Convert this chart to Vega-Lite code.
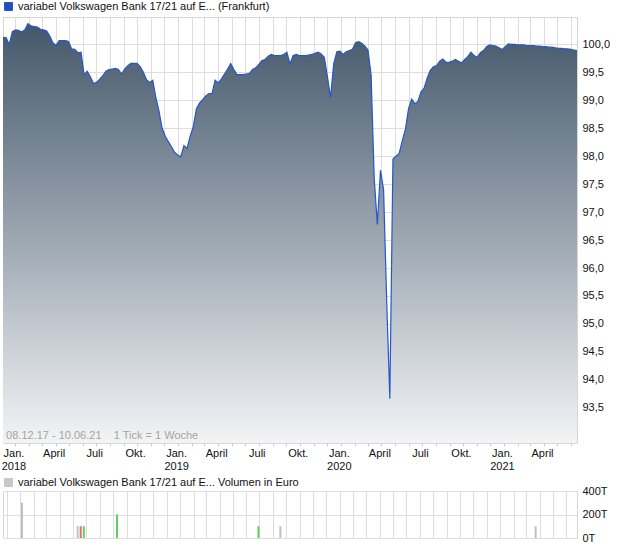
{
  "$schema": "https://vega.github.io/schema/vega-lite/v6.json",
  "background": "white",
  "padding": {"left": 0, "top": 0, "right": 0, "bottom": 0},
  "spacing": 4,
  "config": {
    "font": "Liberation Sans",
    "view": {"stroke": "#d6d6d6"},
    "axis": {"labelFont": "Liberation Sans", "labelFontSize": 11, "labelColor": "#111111", "gridColor": "#dddddd", "gridWidth": 1, "labelOverlap": false}
  },
  "resolve": {"scale": {"x": "independent", "y": "independent", "stroke": "independent", "color": "independent"}, "legend": {"stroke": "independent"}},
  "datasets": {
    "kurs": [
      {"datum": "2017-12-04", "kurs": 100.12}, {"datum": "2017-12-11", "kurs": 100.12}, {"datum": "2017-12-18", "kurs": 100.00}, {"datum": "2017-12-25", "kurs": 100.23},
      {"datum": "2018-01-01", "kurs": 100.26}, {"datum": "2018-01-08", "kurs": 100.25}, {"datum": "2018-01-15", "kurs": 100.22}, {"datum": "2018-01-22", "kurs": 100.26}, {"datum": "2018-01-29", "kurs": 100.37},
      {"datum": "2018-02-05", "kurs": 100.33}, {"datum": "2018-02-12", "kurs": 100.32}, {"datum": "2018-02-19", "kurs": 100.31}, {"datum": "2018-02-26", "kurs": 100.27},
      {"datum": "2018-03-05", "kurs": 100.26}, {"datum": "2018-03-12", "kurs": 100.24}, {"datum": "2018-03-19", "kurs": 100.15}, {"datum": "2018-03-26", "kurs": 100.03},
      {"datum": "2018-04-02", "kurs": 99.98}, {"datum": "2018-04-09", "kurs": 100.07}, {"datum": "2018-04-16", "kurs": 100.07}, {"datum": "2018-04-23", "kurs": 100.07}, {"datum": "2018-04-30", "kurs": 100.05},
      {"datum": "2018-05-07", "kurs": 99.92}, {"datum": "2018-05-14", "kurs": 99.91}, {"datum": "2018-05-21", "kurs": 99.85}, {"datum": "2018-05-28", "kurs": 99.86},
      {"datum": "2018-06-04", "kurs": 99.46}, {"datum": "2018-06-11", "kurs": 99.52}, {"datum": "2018-06-18", "kurs": 99.42}, {"datum": "2018-06-25", "kurs": 99.30},
      {"datum": "2018-07-02", "kurs": 99.32}, {"datum": "2018-07-09", "kurs": 99.38}, {"datum": "2018-07-16", "kurs": 99.44}, {"datum": "2018-07-23", "kurs": 99.52}, {"datum": "2018-07-30", "kurs": 99.55},
      {"datum": "2018-08-06", "kurs": 99.56}, {"datum": "2018-08-13", "kurs": 99.57}, {"datum": "2018-08-20", "kurs": 99.55}, {"datum": "2018-08-27", "kurs": 99.47},
      {"datum": "2018-09-03", "kurs": 99.56}, {"datum": "2018-09-10", "kurs": 99.62}, {"datum": "2018-09-17", "kurs": 99.66}, {"datum": "2018-09-24", "kurs": 99.66},
      {"datum": "2018-10-01", "kurs": 99.66}, {"datum": "2018-10-08", "kurs": 99.60}, {"datum": "2018-10-15", "kurs": 99.50}, {"datum": "2018-10-22", "kurs": 99.37}, {"datum": "2018-10-29", "kurs": 99.32},
      {"datum": "2018-11-05", "kurs": 99.36}, {"datum": "2018-11-12", "kurs": 99.05}, {"datum": "2018-11-19", "kurs": 98.81}, {"datum": "2018-11-26", "kurs": 98.50},
      {"datum": "2018-12-03", "kurs": 98.36}, {"datum": "2018-12-10", "kurs": 98.26}, {"datum": "2018-12-17", "kurs": 98.17}, {"datum": "2018-12-24", "kurs": 98.07}, {"datum": "2018-12-31", "kurs": 98.02},
      {"datum": "2019-01-07", "kurs": 97.99}, {"datum": "2019-01-14", "kurs": 98.19}, {"datum": "2019-01-21", "kurs": 98.14}, {"datum": "2019-01-28", "kurs": 98.36},
      {"datum": "2019-02-04", "kurs": 98.53}, {"datum": "2019-02-11", "kurs": 98.85}, {"datum": "2019-02-18", "kurs": 98.95}, {"datum": "2019-02-25", "kurs": 99.01},
      {"datum": "2019-03-04", "kurs": 99.08}, {"datum": "2019-03-11", "kurs": 99.12}, {"datum": "2019-03-18", "kurs": 99.12}, {"datum": "2019-03-25", "kurs": 99.36},
      {"datum": "2019-04-01", "kurs": 99.31}, {"datum": "2019-04-08", "kurs": 99.38}, {"datum": "2019-04-15", "kurs": 99.47}, {"datum": "2019-04-22", "kurs": 99.56}, {"datum": "2019-04-29", "kurs": 99.66},
      {"datum": "2019-05-06", "kurs": 99.55}, {"datum": "2019-05-13", "kurs": 99.46}, {"datum": "2019-05-20", "kurs": 99.46}, {"datum": "2019-05-27", "kurs": 99.46},
      {"datum": "2019-06-03", "kurs": 99.47}, {"datum": "2019-06-10", "kurs": 99.48}, {"datum": "2019-06-17", "kurs": 99.55}, {"datum": "2019-06-24", "kurs": 99.58},
      {"datum": "2019-07-01", "kurs": 99.64}, {"datum": "2019-07-08", "kurs": 99.71}, {"datum": "2019-07-15", "kurs": 99.73}, {"datum": "2019-07-22", "kurs": 99.79}, {"datum": "2019-07-29", "kurs": 99.82},
      {"datum": "2019-08-05", "kurs": 99.80}, {"datum": "2019-08-12", "kurs": 99.80}, {"datum": "2019-08-19", "kurs": 99.80}, {"datum": "2019-08-26", "kurs": 99.82},
      {"datum": "2019-09-02", "kurs": 99.86}, {"datum": "2019-09-09", "kurs": 99.65}, {"datum": "2019-09-16", "kurs": 99.80}, {"datum": "2019-09-23", "kurs": 99.82}, {"datum": "2019-09-30", "kurs": 99.80},
      {"datum": "2019-10-07", "kurs": 99.80}, {"datum": "2019-10-14", "kurs": 99.80}, {"datum": "2019-10-21", "kurs": 99.81}, {"datum": "2019-10-28", "kurs": 99.82},
      {"datum": "2019-11-04", "kurs": 99.84}, {"datum": "2019-11-11", "kurs": 99.86}, {"datum": "2019-11-18", "kurs": 99.83}, {"datum": "2019-11-25", "kurs": 99.77},
      {"datum": "2019-12-02", "kurs": 99.42}, {"datum": "2019-12-09", "kurs": 99.05}, {"datum": "2019-12-16", "kurs": 99.65}, {"datum": "2019-12-23", "kurs": 99.87}, {"datum": "2019-12-30", "kurs": 99.88},
      {"datum": "2020-01-06", "kurs": 99.82}, {"datum": "2020-01-13", "kurs": 99.87}, {"datum": "2020-01-20", "kurs": 99.89}, {"datum": "2020-01-27", "kurs": 99.91},
      {"datum": "2020-02-03", "kurs": 100.03}, {"datum": "2020-02-10", "kurs": 100.05}, {"datum": "2020-02-17", "kurs": 100.02}, {"datum": "2020-02-24", "kurs": 99.97},
      {"datum": "2020-03-02", "kurs": 99.90}, {"datum": "2020-03-09", "kurs": 99.45}, {"datum": "2020-03-16", "kurs": 97.60}, {"datum": "2020-03-23", "kurs": 96.78}, {"datum": "2020-03-30", "kurs": 97.75},
      {"datum": "2020-04-06", "kurs": 97.40}, {"datum": "2020-04-13", "kurs": 95.40}, {"datum": "2020-04-20", "kurs": 93.66}, {"datum": "2020-04-27", "kurs": 97.95},
      {"datum": "2020-05-04", "kurs": 98.00}, {"datum": "2020-05-11", "kurs": 98.05}, {"datum": "2020-05-18", "kurs": 98.28}, {"datum": "2020-05-25", "kurs": 98.48},
      {"datum": "2020-06-01", "kurs": 98.85}, {"datum": "2020-06-08", "kurs": 99.02}, {"datum": "2020-06-15", "kurs": 98.94}, {"datum": "2020-06-22", "kurs": 98.98}, {"datum": "2020-06-29", "kurs": 99.15},
      {"datum": "2020-07-06", "kurs": 99.22}, {"datum": "2020-07-13", "kurs": 99.40}, {"datum": "2020-07-20", "kurs": 99.54}, {"datum": "2020-07-27", "kurs": 99.60},
      {"datum": "2020-08-03", "kurs": 99.62}, {"datum": "2020-08-10", "kurs": 99.70}, {"datum": "2020-08-17", "kurs": 99.74}, {"datum": "2020-08-24", "kurs": 99.68}, {"datum": "2020-08-31", "kurs": 99.68},
      {"datum": "2020-09-07", "kurs": 99.70}, {"datum": "2020-09-14", "kurs": 99.73}, {"datum": "2020-09-21", "kurs": 99.70}, {"datum": "2020-09-28", "kurs": 99.67},
      {"datum": "2020-10-05", "kurs": 99.73}, {"datum": "2020-10-12", "kurs": 99.78}, {"datum": "2020-10-19", "kurs": 99.86}, {"datum": "2020-10-26", "kurs": 99.80},
      {"datum": "2020-11-02", "kurs": 99.77}, {"datum": "2020-11-09", "kurs": 99.85}, {"datum": "2020-11-16", "kurs": 99.89}, {"datum": "2020-11-23", "kurs": 99.96}, {"datum": "2020-11-30", "kurs": 99.99},
      {"datum": "2020-12-07", "kurs": 99.98}, {"datum": "2020-12-14", "kurs": 99.97}, {"datum": "2020-12-21", "kurs": 99.94}, {"datum": "2020-12-28", "kurs": 99.91},
      {"datum": "2021-01-04", "kurs": 99.96}, {"datum": "2021-01-11", "kurs": 100.01}, {"datum": "2021-01-18", "kurs": 100.00}, {"datum": "2021-01-25", "kurs": 100.00},
      {"datum": "2021-02-01", "kurs": 99.99}, {"datum": "2021-02-08", "kurs": 99.99}, {"datum": "2021-02-15", "kurs": 99.99}, {"datum": "2021-02-22", "kurs": 99.98},
      {"datum": "2021-03-01", "kurs": 99.98}, {"datum": "2021-03-08", "kurs": 99.98}, {"datum": "2021-03-15", "kurs": 99.97}, {"datum": "2021-03-22", "kurs": 99.97}, {"datum": "2021-03-29", "kurs": 99.96},
      {"datum": "2021-04-05", "kurs": 99.96}, {"datum": "2021-04-12", "kurs": 99.95}, {"datum": "2021-04-19", "kurs": 99.95}, {"datum": "2021-04-26", "kurs": 99.94},
      {"datum": "2021-05-03", "kurs": 99.93}, {"datum": "2021-05-10", "kurs": 99.93}, {"datum": "2021-05-17", "kurs": 99.92}, {"datum": "2021-05-24", "kurs": 99.92}, {"datum": "2021-05-31", "kurs": 99.91},
      {"datum": "2021-06-07", "kurs": 99.90}, {"datum": "2021-06-14", "kurs": 99.89}
    ],
    "volumen": [
      {"datum": "2018-01-05", "umsatz": 300000, "tendenz": "unverändert"},
      {"datum": "2018-05-12", "umsatz": 100000, "tendenz": "unverändert"},
      {"datum": "2018-05-19", "umsatz": 100000, "tendenz": "fallend"},
      {"datum": "2018-05-26", "umsatz": 100000, "tendenz": "steigend"},
      {"datum": "2018-08-10", "umsatz": 200000, "tendenz": "steigend"},
      {"datum": "2019-06-29", "umsatz": 100000, "tendenz": "steigend"},
      {"datum": "2019-08-18", "umsatz": 100000, "tendenz": "unverändert"},
      {"datum": "2021-03-23", "umsatz": 100000, "tendenz": "unverändert"}
    ]
  },
  "vconcat": [
    {
      "width": 574,
      "height": 426,
      "data": {"name": "kurs"},
      "layer": [
        {
          "mark": {
            "type": "area",
            "fill": {"gradient": "linear", "x1": 0, "y1": 0, "x2": 0, "y2": 1, "stops": [{"offset": 0, "color": "#44576a"}, {"offset": 1, "color": "#f2f4f6"}]}
          },
          "encoding": {
            "x": {
              "field": "datum", "type": "temporal",
              "scale": {"domain": [{"year": 2017, "month": 12, "date": 4}, {"year": 2021, "month": 6, "date": 14}], "nice": false},
              "axis": {
                "title": null,
                "tickCount": {"interval": "month", "step": 1},
                "labelExpr": "month(datum.value)==0 ? ['Jan.', timeFormat(datum.value, '%Y')] : month(datum.value)==3 ? 'April' : month(datum.value)==6 ? 'Juli' : month(datum.value)==9 ? 'Okt.' : ''",
                "labelOverlap": false, "labelFlush": false, "labelAlign": "center", "labelBaseline": "top",
                "labelPadding": 1, "labelLineHeight": 13, "labelOffset": -2,
                "grid": true, "domain": false, "ticks": true, "tickSize": 3, "tickColor": "#cccccc"
              }
            },
            "y": {
              "field": "kurs", "type": "quantitative",
              "scale": {"domain": [92.87, 100.49], "nice": false, "zero": false},
              "axis": {
                "title": null, "orient": "right",
                "values": [93.5, 94, 94.5, 95, 95.5, 96, 96.5, 97, 97.5, 98, 98.5, 99, 99.5, 100],
                "labelExpr": "replace(format(datum.value, '.1f'), '.', ',')",
                "labelOverlap": false, "domain": false, "ticks": false, "labelPadding": 5, "grid": true
              }
            },
            "y2": {"datum": 92.87}
          }
        },
        {
          "mark": {"type": "line", "strokeWidth": 1.2},
          "encoding": {
            "x": {
              "field": "datum", "type": "temporal",
              "axis": {
                "title": null,
                "tickCount": {"interval": "month", "step": 1},
                "labelExpr": "month(datum.value)==0 ? ['Jan.', timeFormat(datum.value, '%Y')] : month(datum.value)==3 ? 'April' : month(datum.value)==6 ? 'Juli' : month(datum.value)==9 ? 'Okt.' : ''",
                "labelOverlap": false, "labelFlush": false, "labelAlign": "center", "labelBaseline": "top",
                "labelPadding": 1, "labelLineHeight": 13, "labelOffset": -2,
                "grid": true, "domain": false, "ticks": true, "tickSize": 3, "tickColor": "#cccccc"
              }
            },
            "y": {
              "field": "kurs", "type": "quantitative",
              "axis": {
                "title": null, "orient": "right",
                "values": [93.5, 94, 94.5, 95, 95.5, 96, 96.5, 97, 97.5, 98, 98.5, 99, 99.5, 100],
                "labelExpr": "replace(format(datum.value, '.1f'), '.', ',')",
                "labelOverlap": false, "domain": false, "ticks": false, "labelPadding": 5, "grid": true
              }
            },
            "stroke": {
              "datum": "variabel Volkswagen Bank 17/21 auf E... (Frankfurt)",
              "scale": {"range": ["#2458c8"]},
              "legend": {
                "orient": "top", "title": null, "offset": 4, "padding": 0,
                "symbolType": "square", "symbolSize": 64, "symbolStrokeWidth": 1,
                "symbolFillColor": "#1f50bd",
                "labelFontSize": 11, "labelColor": "#111111", "labelFont": "Liberation Sans", "labelLimit": 500,
                "encode": {"symbols": {"update": {"fill": {"value": "#1f50bd"}, "stroke": {"value": "#1a2440"}, "fillOpacity": {"value": 1}}}}
              }
            }
          }
        },
        {
          "data": {"values": [{"hinweis": "08.12.17 - 10.06.21\u00a0\u00a0\u00a0 1 Tick = 1 Woche"}]},
          "mark": {"type": "text", "align": "left", "baseline": "middle", "fontSize": 11, "color": "#aaa396", "font": "Liberation Sans"},
          "encoding": {
            "x": {
              "datum": {"year": 2017, "month": 12, "date": 11}, "type": "temporal",
              "axis": {
                "title": null,
                "tickCount": {"interval": "month", "step": 1},
                "labelExpr": "month(datum.value)==0 ? ['Jan.', timeFormat(datum.value, '%Y')] : month(datum.value)==3 ? 'April' : month(datum.value)==6 ? 'Juli' : month(datum.value)==9 ? 'Okt.' : ''",
                "labelOverlap": false, "labelFlush": false, "labelAlign": "center", "labelBaseline": "top",
                "labelPadding": 1, "labelLineHeight": 13, "labelOffset": -2,
                "grid": true, "domain": false, "ticks": true, "tickSize": 3, "tickColor": "#cccccc"
              }
            },
            "y": {
              "datum": 93.0, "type": "quantitative",
              "axis": {
                "title": null, "orient": "right",
                "values": [93.5, 94, 94.5, 95, 95.5, 96, 96.5, 97, 97.5, 98, 98.5, 99, 99.5, 100],
                "labelExpr": "replace(format(datum.value, '.1f'), '.', ',')",
                "labelOverlap": false, "domain": false, "ticks": false, "labelPadding": 5, "grid": true
              }
            },
            "text": {"field": "hinweis"}
          }
        }
      ]
    },
    {
      "width": 574,
      "height": 47,
      "data": {"name": "volumen"},
      "mark": {"type": "bar", "size": 2, "strokeWidth": 0},
      "encoding": {
        "x": {
          "field": "datum", "type": "temporal",
          "scale": {"domain": [{"year": 2017, "month": 12, "date": 4}, {"year": 2021, "month": 6, "date": 14}], "nice": false},
          "axis": {"title": null, "labels": false, "ticks": false, "domain": false, "grid": true, "tickCount": {"interval": "month", "step": 1}}
        },
        "y": {
          "field": "umsatz", "type": "quantitative",
          "scale": {"domain": [0, 400000], "nice": false},
          "axis": {"title": null, "orient": "right", "values": [0, 200000, 400000], "labelExpr": "format(datum.value / 1000, 'd') + 'T'", "labelOverlap": false, "domain": false, "ticks": false, "labelPadding": 5, "grid": true}
        },
        "color": {
          "field": "tendenz", "type": "nominal",
          "scale": {"domain": ["unverändert", "fallend", "steigend"], "range": ["#c0c0c0", "#e07070", "#5cd05c"]},
          "legend": null
        },
        "stroke": {
          "datum": "variabel Volkswagen Bank 17/21 auf E... Volumen in Euro",
          "scale": {"range": ["#c8c8c8"]},
          "legend": {
            "orient": "top", "title": null, "offset": 2, "padding": 0,
            "symbolType": "square", "symbolSize": 64, "symbolStrokeWidth": 1,
            "symbolFillColor": "#c8c8c8",
            "labelFontSize": 11, "labelColor": "#111111", "labelFont": "Liberation Sans", "labelLimit": 500,
            "encode": {"symbols": {"enter": {"fill": {"value": "#c8c8c8"}}, "update": {"fill": {"value": "#c8c8c8"}, "stroke": {"value": "#333333"}, "fillOpacity": {"value": 1}, "opacity": {"value": 1}}}}
          }
        }
      }
    }
  ]
}
